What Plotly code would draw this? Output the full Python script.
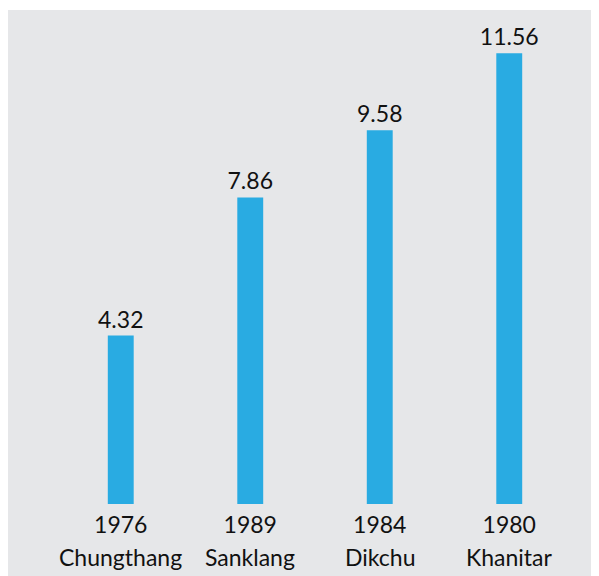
import plotly.graph_objects as go

# data
years = ['1976', '1989', '1984', '1980']
places = ['Chungthang', 'Sanklang', 'Dikchu', 'Khanitar']
values = [4.32, 7.86, 9.58, 11.56]

fig = go.Figure()
fig.add_trace(go.Bar(
    x=places,
    y=values,
    text=[f'{v:.2f}' for v in values],
    textposition='outside',
    textfont=dict(size=23, color='#111111'),
    marker=dict(color='#29ABE2', line=dict(width=0)),
    width=0.2,
    cliponaxis=False,
))

# place names go on a second row, a bit lower than a plain <br> would put them
for p in places:
    fig.add_annotation(x=p, y=0, xref='x', yref='paper', text=p,
                       showarrow=False, yanchor='top', yshift=-37,
                       font=dict(size=23, color='#111111'))

# grey panel behind everything (slightly larger than the plot area)
fig.add_shape(type='rect', xref='paper', yref='paper',
              x0=-0.0927, x1=1.05, y0=-0.15, y1=1.0207,
              fillcolor='#E6E7E9', line=dict(width=0), layer='below')

fig.update_layout(
    width=591, height=568,
    margin=dict(l=48, r=25, t=12, b=72),
    paper_bgcolor='white',
    plot_bgcolor='rgba(0,0,0,0)',
    font=dict(family='Lato, Open Sans, sans-serif', size=23, color='#111111'),
    showlegend=False,
    bargap=0.8,
    uniformtext=dict(minsize=23, mode='show'),
)
fig.update_xaxes(showgrid=False, showline=False, zeroline=False, ticks='',
                 tickmode='array', tickvals=places, ticktext=years,
                 tickfont=dict(size=23), ticklabelstandoff=5)
fig.update_yaxes(range=[0, 12.41], visible=False)

fig.write_html('out.html')
